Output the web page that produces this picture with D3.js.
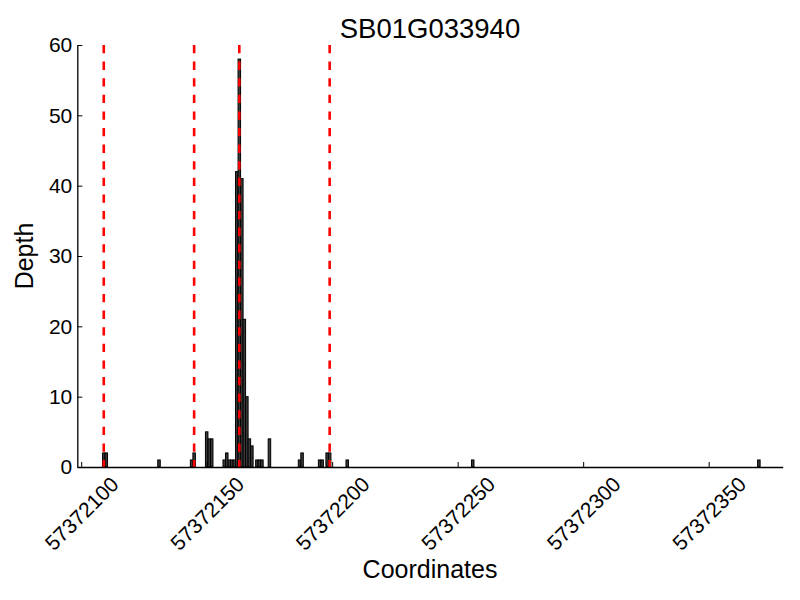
<!DOCTYPE html>
<html>
<head>
<meta charset="utf-8">
<script src="https://cdn.jsdelivr.net/npm/d3@7/dist/d3.min.js"></script>
<style>
  html, body { margin: 0; padding: 0; background: #fff; }
  svg text { font-family: "Liberation Sans", Arial, Helvetica, sans-serif; fill: #000; }
</style>
</head>
<body>
<svg id="chart" width="800" height="600"></svg>
<script>
const title = "SB01G033940";
const xLabel = "Coordinates";
const yLabel = "Depth";
const coords = [57372109, 57372110, 57372131, 57372144, 57372145, 57372150, 57372151, 57372152,
  57372157, 57372158, 57372159, 57372160, 57372161, 57372162, 57372163, 57372164, 57372165,
  57372166, 57372167, 57372168, 57372170, 57372171, 57372172, 57372175, 57372187, 57372188,
  57372195, 57372196, 57372198, 57372199, 57372206, 57372256, 57372370];
const depths = [2, 2, 1, 1, 2, 5, 4, 4,
  1, 2, 1, 1, 1, 42, 58, 41, 21,
  10, 4, 3, 1, 1, 1, 4, 1, 2,
  1, 1, 2, 2, 1, 1, 1];
const markers = [57372109, 57372145, 57372163, 57372199];
const xTicks = [57372100, 57372150, 57372200, 57372250, 57372300, 57372350];
const yTicks = [0, 10, 20, 30, 40, 50, 60];

const svg = d3.select("#chart");
const mLeft = 77.3, mRight = 782.7, mTop = 45, mBottom = 467;

const x = d3.scaleLinear().domain([57372098.45, 57372379.5]).range([mLeft, mRight]);
const y = d3.scaleLinear().domain([0, 60]).range([mBottom, mTop]);

// bars
svg.append("g").selectAll("rect")
  .data(coords.map((c, i) => ({c, d: depths[i]})))
  .join("rect")
  .attr("x", d => x(d.c - 0.5))
  .attr("width", d => x(d.c + 0.5) - x(d.c - 0.5))
  .attr("y", d => y(d.d))
  .attr("height", d => y(0) - y(d.d))
  .attr("fill", "#3a3a3a")
  .attr("stroke", "#000")
  .attr("stroke-width", 1);

// red dashed markers
svg.append("g").selectAll("line")
  .data(markers)
  .join("line")
  .attr("x1", d => x(d)).attr("x2", d => x(d))
  .attr("y1", y(60)).attr("y2", y(0))
  .attr("stroke", "#ff0000")
  .attr("stroke-width", 2.6)
  .attr("stroke-dasharray", "8.3,8.3");

// x axis
const tickFont = 21;
const xAxis = svg.append("g")
  .attr("transform", `translate(0,${mBottom})`)
  .call(d3.axisBottom(x).tickValues(xTicks).tickFormat(d3.format("d"))
    .tickSizeInner(-5).tickSizeOuter(0));
xAxis.select(".domain").attr("stroke", "#000").attr("stroke-width", 1.3);
xAxis.selectAll(".tick line").attr("stroke", "#000").attr("stroke-width", 1);
xAxis.selectAll(".tick text").each(function() {
  const t = d3.select(this);
  t.attr("font-size", tickFont).attr("text-anchor", "middle").attr("dy", "0.35em");
  const w = this.getComputedTextLength();
  const h = tickFont;
  const half = (w + h) * Math.SQRT1_2 / 2;
  t.attr("y", 0).attr("x", 0)
   .attr("transform", `translate(0,${6 + half}) rotate(-45)`);
});

// y axis
const yAxis = svg.append("g")
  .attr("transform", `translate(${mLeft},0)`)
  .call(d3.axisLeft(y).tickValues(yTicks).tickSizeInner(-5).tickSizeOuter(0));
yAxis.select(".domain").attr("stroke", "#000").attr("stroke-width", 1.3);
yAxis.selectAll(".tick line").attr("stroke", "#000").attr("stroke-width", 1);
yAxis.selectAll(".tick text").attr("font-size", tickFont).attr("x", -5);

// labels
svg.append("text").attr("x", (mLeft + mRight) / 2).attr("y", 38)
  .attr("text-anchor", "middle").attr("font-size", 27.5).text(title);
svg.append("text").attr("x", (mLeft + mRight) / 2).attr("y", 578)
  .attr("text-anchor", "middle").attr("font-size", 25).text(xLabel);
svg.append("text").attr("transform", `translate(33,${(mTop + mBottom) / 2}) rotate(-90)`)
  .attr("text-anchor", "middle").attr("font-size", 25).text(yLabel);
</script>
</body>
</html>
